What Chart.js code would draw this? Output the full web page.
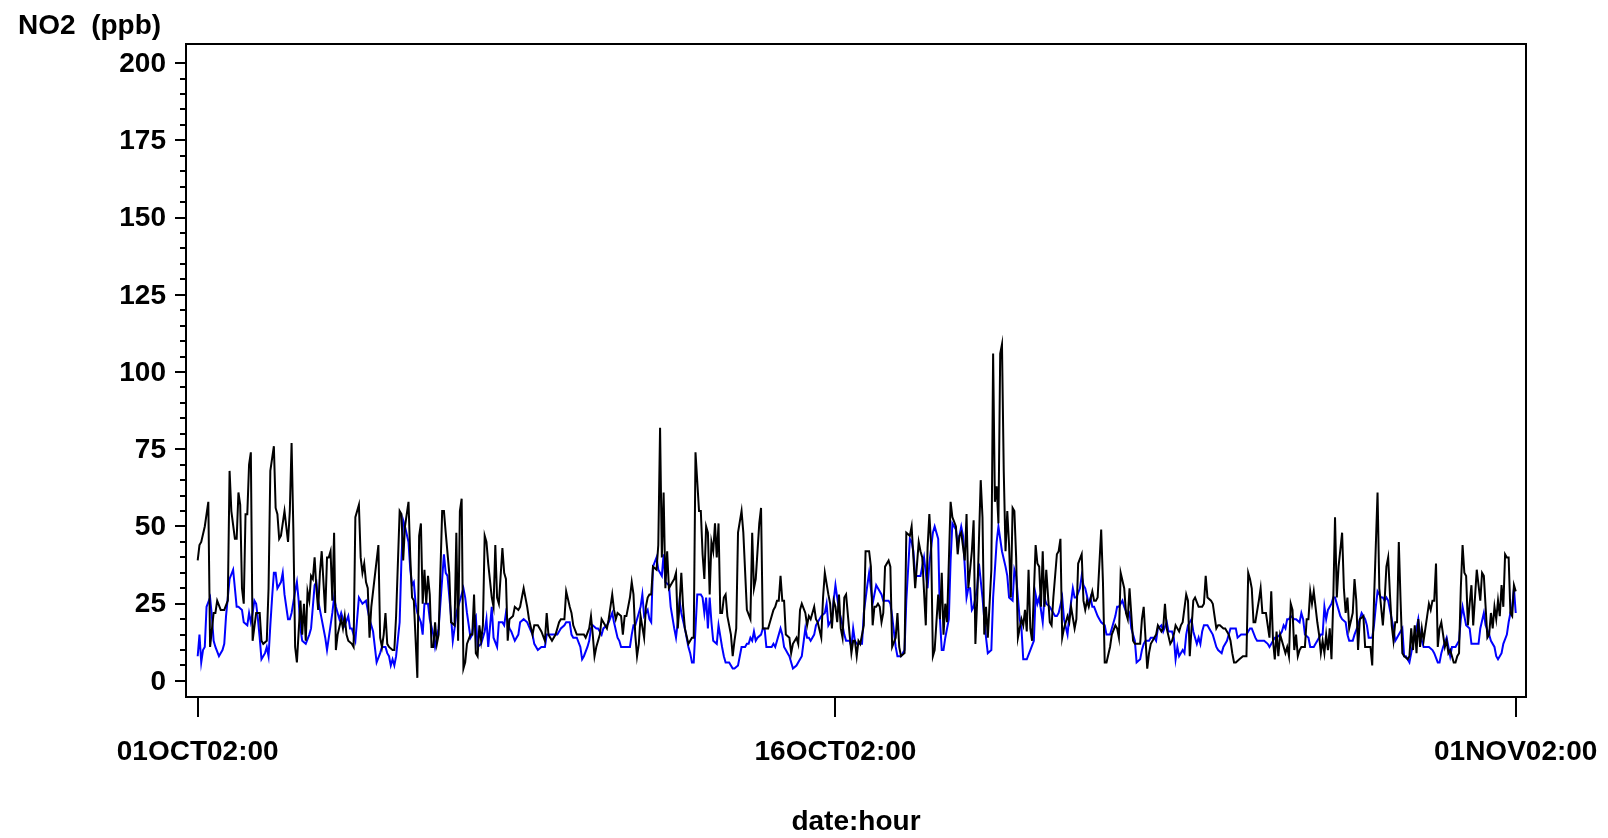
<!DOCTYPE html>
<html>
<head>
<meta charset="utf-8">
<script src="https://cdn.jsdelivr.net/npm/chart.js@4.4.1/dist/chart.umd.min.js"></script>
<style>
  html, body { margin: 0; padding: 0; background: #fff; }
  canvas { display: block; }
</style>
</head>
<body>
<canvas id="c" width="1608" height="838"></canvas>
<script>
// ---- data: [hour offset from 01OCT02:00, NO2 ppb] ----
const blackSeries = [[0,39],[1,44],[2,45],[4,50],[6,58],[7,11],[9,22],[10,22],[11,26],[13,23],[15,23],[17,26],[18,68],[19,55],[21,46],[22,46],[23,61],[24,57],[25,30],[26,25],[27,54],[28,54],[29,70],[30,74],[31,13],[33,22],[35,22],[36,13],[37,12],[39,13],[40,30],[41,68],[43,76],[44,56],[45,54],[46,46],[47,47],[49,55],[50,50],[51,45],[52,55],[53,77],[54,49],[55,11],[56,6],[58,26],[59,15],[60,25],[61,13],[62,29],[63,26],[64,34],[65,33],[66,40],[67,30],[68,23],[69,35],[70,42],[72,22],[73,40],[74,40],[75,42],[76,26],[77,48],[78,10],[79,15],[81,20],[82,17],[83,21],[84,15],[85,13],[87,12],[88,11],[89,53],[91,57],[92,40],[93,35],[94,38],[95,32],[96,30],[97,14],[98,24],[100,34],[102,44],[103,14],[104,11],[105,15],[106,22],[107,12],[108,11],[110,10],[111,10],[112,21],[114,55],[115,54],[116,39],[117,50],[119,58],[120,40],[121,27],[122,26],[124,1],[125,47],[126,51],[127,25],[128,36],[129,25],[130,34],[131,28],[132,11],[133,11],[134,19],[135,12],[136,15],[138,55],[139,55],[140,48],[142,35],[143,19],[145,18],[146,48],[147,13],[148,55],[149,59],[150,4],[151,6],[152,12],[154,15],[155,15],[156,28],[157,9],[158,8],[159,18],[160,13],[161,18],[162,47],[163,45],[164,38],[166,27],[167,24],[168,44],[169,27],[170,25],[172,43],[173,35],[174,33],[175,13],[176,20],[178,21],[179,24],[181,23],[182,24],[183,27],[184,30],[186,24],[187,20],[189,15],[190,18],[192,18],[194,16],[196,13],[197,22],[198,15],[200,13],[202,15],[204,19],[205,20],[207,20],[208,29],[210,24],[211,22],[212,18],[214,15],[216,15],[218,15],[219,14],[221,17],[222,21],[223,15],[224,8],[225,11],[227,15],[228,20],[229,19],[231,17],[232,20],[234,28],[235,23],[236,20],[237,22],[239,21],[240,15],[241,21],[242,21],[244,27],[245,32],[246,28],[247,15],[248,8],[249,12],[250,21],[252,14],[253,24],[254,27],[255,28],[256,28],[257,37],[259,36],[260,44],[261,82],[262,40],[263,61],[264,30],[265,42],[266,30],[268,32],[269,33],[270,35],[271,17],[272,25],[273,35],[274,24],[275,17],[277,12],[278,13],[279,14],[280,14],[281,74],[283,55],[284,55],[285,41],[286,33],[287,50],[288,48],[289,28],[290,45],[291,42],[292,51],[293,40],[294,51],[295,22],[296,22],[297,27],[298,28],[299,21],[301,15],[302,8],[303,13],[304,17],[305,48],[307,55],[308,48],[310,23],[312,20],[313,48],[314,30],[315,33],[317,51],[318,56],[319,17],[321,17],[322,17],[323,19],[325,23],[326,24],[327,26],[328,26],[329,34],[330,26],[331,26],[332,15],[334,14],[335,9],[336,12],[338,14],[339,12],[340,23],[341,25],[343,22],[344,18],[345,21],[346,20],[348,24],[349,20],[350,19],[352,14],[353,27],[354,35],[356,28],[357,25],[358,17],[359,26],[360,24],[361,19],[362,28],[363,17],[364,14],[365,27],[366,28],[368,15],[369,9],[370,13],[371,13],[372,8],[373,13],[374,12],[376,18],[377,42],[379,42],[380,37],[381,18],[382,24],[383,24],[384,25],[385,24],[386,19],[387,22],[388,37],[390,39],[391,37],[392,11],[394,14],[395,22],[396,11],[397,8],[399,9],[400,48],[402,47],[403,50],[405,30],[407,45],[408,42],[409,40],[411,18],[412,43],[413,54],[414,44],[415,8],[416,10],[418,28],[419,20],[420,35],[421,15],[422,25],[423,19],[425,58],[426,53],[428,50],[429,41],[430,47],[431,48],[433,39],[434,54],[435,30],[437,42],[438,52],[439,12],[440,26],[442,65],[443,53],[444,15],[445,24],[446,14],[448,36],[449,106],[450,58],[451,63],[452,51],[453,106],[454,109],[455,68],[456,42],[457,55],[458,44],[459,27],[460,56],[461,55],[462,40],[463,14],[465,20],[466,18],[467,23],[468,16],[469,36],[470,17],[471,13],[473,44],[474,38],[475,37],[476,24],[477,42],[478,24],[479,36],[481,19],[482,18],[483,27],[485,41],[486,42],[487,46],[488,14],[489,17],[491,21],[492,19],[493,24],[495,17],[496,20],[497,38],[499,41],[500,26],[501,23],[502,26],[503,24],[505,29],[506,26],[507,26],[508,27],[510,49],[511,32],[512,6],[513,6],[515,11],[516,15],[518,18],[519,17],[520,14],[521,35],[523,30],[524,22],[525,20],[526,30],[528,13],[529,12],[530,12],[532,12],[533,20],[534,24],[536,4],[537,9],[538,12],[540,14],[541,15],[542,18],[544,16],[545,17],[546,25],[547,17],[549,12],[550,13],[551,15],[552,18],[554,16],[555,18],[556,19],[558,28],[559,26],[560,8],[561,17],[562,26],[563,27],[565,24],[566,24],[567,24],[568,25],[569,34],[570,27],[572,26],[573,25],[574,21],[575,17],[576,18],[577,18],[579,17],[580,17],[582,15],[583,13],[584,9],[585,6],[586,6],[588,7],[590,8],[591,8],[592,8],[593,35],[594,33],[595,30],[596,19],[597,19],[599,26],[600,30],[601,22],[603,22],[604,18],[605,14],[606,29],[607,13],[608,7],[609,16],[610,8],[611,15],[612,13],[614,9],[615,11],[616,8],[617,25],[618,23],[619,10],[620,15],[621,8],[622,10],[623,11],[625,11],[626,20],[627,20],[628,29],[629,25],[630,29],[632,19],[633,15],[634,9],[635,13],[636,9],[637,15],[638,10],[639,17],[640,7],[641,26],[642,53],[643,27],[644,37],[646,48],[647,30],[648,22],[649,27],[650,17],[652,22],[653,33],[654,26],[655,10],[656,20],[658,21],[659,11],[660,11],[662,11],[663,5],[664,26],[666,61],[667,30],[669,18],[670,26],[671,37],[672,40],[673,28],[674,18],[675,13],[676,19],[677,19],[678,45],[679,26],[680,9],[681,8],[683,7],[684,8],[685,17],[686,10],[687,18],[688,9],[689,20],[690,11],[691,17],[692,13],[693,17],[694,21],[695,25],[696,23],[697,26],[698,26],[699,38],[700,11],[701,17],[702,19],[703,15],[704,11],[705,13],[706,9],[707,10],[708,8],[709,6],[710,6],[711,8],[712,9],[713,30],[714,44],[715,35],[716,34],[717,18],[718,25],[719,31],[720,18],[722,36],[723,31],[724,26],[725,35],[726,34],[727,24],[728,14],[729,15],[730,22],[731,17],[732,24],[733,20],[734,26],[735,21],[736,31],[737,24],[738,41],[739,40],[740,40],[741,22],[742,21],[743,31],[744,29]];

const blueSeries = [[0,8],[1,15],[2,6],[3,10],[4,11],[5,24],[7,27],[8,21],[9,13],[10,11],[12,8],[14,10],[15,12],[16,21],[18,33],[20,36],[21,30],[22,24],[23,24],[25,23],[26,19],[28,18],[29,22],[30,19],[31,22],[32,26],[33,25],[34,20],[35,14],[36,7],[38,9],[39,11],[40,8],[41,18],[42,27],[43,35],[44,35],[45,30],[47,32],[48,35],[49,28],[51,20],[52,20],[53,22],[55,29],[56,32],[57,26],[58,17],[59,13],[61,12],[63,15],[64,17],[66,31],[67,32],[68,26],[70,20],[72,14],[73,10],[75,18],[76,22],[77,27],[78,24],[80,20],[81,22],[83,18],[85,21],[86,17],[87,17],[89,13],[91,27],[92,26],[93,25],[95,26],[97,20],[99,16],[100,11],[101,6],[103,9],[104,11],[106,11],[107,9],[108,8],[109,5],[110,7],[111,5],[112,8],[114,19],[115,39],[116,52],[117,50],[119,45],[120,36],[121,31],[122,32],[123,25],[124,22],[126,19],[127,15],[128,25],[130,25],[131,20],[133,15],[134,11],[136,17],[137,25],[139,41],[140,35],[141,34],[143,21],[144,13],[145,17],[146,22],[147,24],[149,28],[150,30],[151,27],[152,22],[154,14],[155,15],[156,20],[157,21],[158,11],[160,12],[161,14],[162,16],[163,20],[164,11],[166,24],[167,14],[169,11],[170,19],[172,19],[173,18],[174,22],[176,17],[177,16],[179,13],[181,15],[182,19],[184,20],[186,19],[189,15],[190,12],[192,10],[194,11],[196,11],[197,15],[199,15],[201,15],[203,15],[204,16],[205,17],[207,18],[208,19],[210,19],[211,15],[212,14],[214,14],[216,11],[217,7],[218,8],[220,11],[221,13],[222,17],[223,18],[225,17],[226,17],[228,15],[229,17],[231,18],[232,19],[234,22],[235,19],[237,14],[238,13],[239,11],[241,11],[242,11],[244,11],[245,15],[246,18],[247,18],[248,20],[250,24],[251,28],[252,21],[254,23],[255,20],[256,19],[257,37],[259,40],[260,36],[262,34],[263,41],[264,32],[266,31],[267,24],[269,17],[270,14],[271,19],[272,26],[273,22],[275,17],[277,11],[278,9],[279,6],[280,6],[281,17],[282,28],[284,28],[285,27],[286,22],[287,27],[288,17],[289,27],[290,19],[291,13],[293,12],[294,18],[296,11],[297,8],[298,6],[300,6],[301,5],[302,4],[303,4],[305,5],[306,8],[307,11],[309,11],[310,12],[311,12],[312,14],[313,13],[314,16],[315,13],[316,14],[318,15],[319,17],[320,17],[321,11],[323,11],[324,11],[325,12],[326,11],[328,15],[329,17],[330,15],[331,11],[332,10],[333,9],[334,8],[336,4],[338,5],[340,7],[341,8],[343,17],[344,14],[345,14],[346,13],[348,15],[349,18],[350,19],[352,21],[354,22],[355,25],[356,18],[358,20],[359,26],[360,31],[361,27],[362,23],[364,18],[365,15],[366,13],[368,13],[369,11],[370,17],[371,13],[372,12],[374,12],[375,12],[376,22],[378,31],[379,35],[380,30],[381,25],[383,31],[384,30],[386,28],[387,26],[388,26],[390,26],[391,25],[392,21],[394,11],[395,8],[397,8],[398,9],[399,10],[400,26],[402,46],[403,45],[404,42],[405,34],[407,34],[408,34],[410,40],[411,35],[412,30],[413,38],[415,48],[416,50],[418,46],[419,20],[420,10],[421,10],[422,14],[424,20],[425,39],[426,51],[428,49],[429,44],[431,50],[432,47],[434,27],[435,30],[436,30],[437,23],[438,24],[440,30],[441,38],[443,27],[444,20],[445,14],[446,9],[448,10],[449,27],[451,45],[452,50],[453,46],[454,42],[456,37],[457,34],[458,27],[460,26],[461,36],[462,34],[464,20],[465,17],[466,7],[468,7],[470,10],[472,13],[473,28],[474,25],[475,27],[477,19],[478,27],[479,25],[481,24],[482,23],[484,21],[485,21],[486,22],[488,27],[489,20],[491,15],[492,21],[494,30],[495,27],[496,27],[498,30],[499,34],[500,31],[501,30],[503,25],[504,27],[505,24],[506,24],[508,21],[509,20],[510,19],[512,18],[513,15],[515,15],[516,17],[518,21],[519,24],[520,24],[522,26],[523,24],[525,21],[526,22],[527,17],[529,13],[530,6],[532,7],[533,10],[534,12],[535,13],[537,13],[538,14],[540,14],[541,13],[542,17],[544,18],[545,16],[547,19],[548,16],[550,16],[551,14],[552,7],[553,11],[554,8],[556,10],[557,9],[558,15],[559,18],[561,20],[562,16],[564,12],[565,14],[566,12],[567,16],[568,18],[570,18],[571,17],[573,15],[574,13],[575,11],[576,10],[578,9],[579,11],[581,13],[582,15],[583,17],[584,17],[586,17],[587,14],[589,15],[591,15],[592,15],[594,17],[595,17],[597,14],[598,13],[600,13],[602,13],[604,12],[605,11],[607,13],[608,14],[609,14],[611,15],[612,16],[613,18],[614,17],[615,20],[616,20],[617,21],[619,20],[620,20],[622,19],[623,22],[624,20],[625,15],[627,14],[628,11],[630,11],[631,12],[632,13],[634,15],[635,15],[636,24],[637,20],[638,23],[640,25],[641,27],[642,27],[644,23],[645,21],[646,20],[648,19],[649,15],[650,13],[652,13],[653,15],[655,18],[656,20],[657,22],[659,20],[660,18],[661,14],[663,14],[664,18],[665,24],[666,29],[668,27],[669,27],[670,26],[671,27],[672,26],[673,23],[675,17],[676,13],[677,14],[678,15],[680,17],[681,8],[682,8],[684,6],[685,9],[686,12],[688,17],[689,20],[690,15],[692,11],[693,11],[695,11],[697,10],[698,9],[700,6],[701,6],[702,9],[703,11],[705,14],[706,11],[707,8],[708,11],[710,11],[712,13],[713,20],[714,24],[715,21],[716,18],[718,17],[719,12],[720,12],[722,12],[723,12],[724,17],[726,22],[727,18],[729,15],[730,13],[732,11],[733,8],[734,7],[736,9],[737,12],[739,15],[740,19],[741,22],[742,24],[743,30],[744,22]];

// ---- axis ticks / labels ----
const yMajorTicks = [0, 25, 50, 75, 100, 125, 150, 175, 200];
const yMinorStep = 5;
const xTickHours = [0, 360, 744];
const xTickLabels = ['01OCT02:00', '16OCT02:00', '01NOV02:00'];
const xTitle = 'date:hour';
const yTitle = 'NO2  (ppb)';

const FONT = 'bold 28px "Liberation Sans", Arial, Helvetica, sans-serif';

const sasAxes = {
  id: 'sasAxes',
  afterDraw(chart) {
    const { ctx, chartArea: a, scales } = chart;
    const xs = scales.x, ys = scales.y;
    ctx.save();
    ctx.strokeStyle = '#000';
    ctx.fillStyle = '#000';
    ctx.lineWidth = 2;
    // frame
    ctx.strokeRect(a.left, a.top, a.right - a.left, a.bottom - a.top);
    // y ticks
    ctx.beginPath();
    for (let v = yMajorTicks[0]; v <= yMajorTicks[yMajorTicks.length - 1]; v += yMinorStep) {
      const py = Math.round(ys.getPixelForValue(v));
      const len = yMajorTicks.includes(v) ? 11 : 6;
      ctx.moveTo(a.left - len, py);
      ctx.lineTo(a.left, py);
    }
    // x ticks
    xTickHours.forEach(h => {
      const px = Math.round(xs.getPixelForValue(h));
      ctx.moveTo(px, a.bottom);
      ctx.lineTo(px, a.bottom + 20);
    });
    ctx.stroke();
    // labels
    ctx.font = FONT;
    ctx.textAlign = 'right';
    ctx.textBaseline = 'middle';
    yMajorTicks.forEach(v => {
      ctx.fillText(String(v), a.left - 20, ys.getPixelForValue(v) + 1);
    });
    ctx.textAlign = 'center';
    xTickHours.forEach((h, i) => {
      ctx.fillText(xTickLabels[i], xs.getPixelForValue(h), a.bottom + 55);
    });
    ctx.fillText(xTitle, (a.left + a.right) / 2, a.bottom + 125);
    ctx.textAlign = 'left';
    ctx.fillText(yTitle, 18, 26);
    ctx.restore();
  }
};

new Chart(document.getElementById('c'), {
  type: 'line',
  data: {
    datasets: [
      {
        label: 'black',
        data: blackSeries.map(p => ({ x: p[0], y: p[1] })),
        borderColor: '#000000',
        borderWidth: 2,
        pointRadius: 0,
        tension: 0,
        fill: false,
        order: 0
      },
      {
        label: 'blue',
        data: blueSeries.map(p => ({ x: p[0], y: p[1] })),
        borderColor: '#0000ff',
        borderWidth: 2,
        pointRadius: 0,
        tension: 0,
        fill: false,
        order: 1
      }
    ]
  },
  options: {
    responsive: false,
    animation: false,
    devicePixelRatio: 1,
    layout: { padding: { left: 186, top: 44, right: 82, bottom: 141 } },
    plugins: { legend: { display: false }, tooltip: { enabled: false }, title: { display: false } },
    scales: {
      x: { type: 'linear', min: -6.6, max: 749.8, display: false },
      y: { type: 'linear', min: -5.2, max: 206.2, display: false }
    }
  },
  plugins: [sasAxes]
});
</script>
</body>
</html>
